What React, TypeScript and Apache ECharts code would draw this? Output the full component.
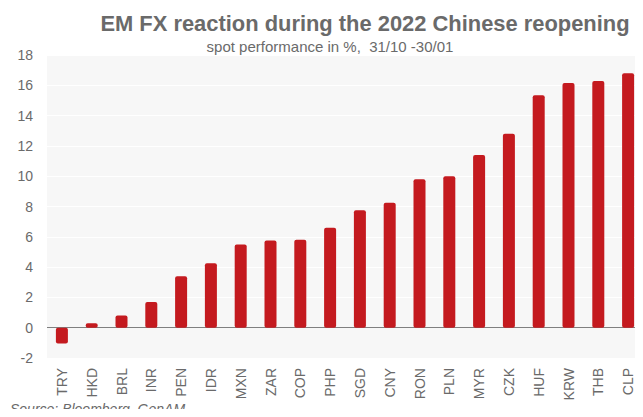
import React, { useEffect, useRef } from "react";
import * as echarts from "echarts";

const currencies = [
  "TRY", "HKD", "BRL", "INR", "PEN", "IDR", "MXN", "ZAR", "COP", "PHP",
  "SGD", "CNY", "RON", "PLN", "MYR", "CZK", "HUF", "KRW", "THB", "CLP",
];
const spotPerformance = [
  -1.05, 0.3, 0.8, 1.7, 3.4, 4.25, 5.5, 5.75, 5.8, 6.6,
  7.75, 8.25, 9.8, 10.0, 11.4, 12.8, 15.35, 16.15, 16.28, 16.8,
];
const yMin = -2;
const yMax = 18;
const yStep = 2;

const FONT = "'Liberation Sans', Arial, sans-serif";
const BAR_RED = "#c41a1f";
const TEXT_GREY = "#6a6a6a";

export default function App() {
  const ref = useRef<HTMLDivElement>(null);

  useEffect(() => {
    if (!ref.current) return;
    const chart = echarts.init(ref.current, null, { renderer: "svg" });
    chart.setOption({
      animation: false,
      textStyle: { fontFamily: FONT },
      title: [
        {
          text: "EM FX reaction during the 2022 Chinese reopening",
          left: 365,
          top: 12,
          padding: 0,
          textAlign: "center",
          textStyle: { fontFamily: FONT, fontSize: 21.9, fontWeight: "bold", color: TEXT_GREY },
        },
        {
          text: "spot performance in %,  31/10 -30/01",
          left: 330,
          top: 39,
          padding: 0,
          textAlign: "center",
          textStyle: { fontFamily: FONT, fontSize: 15, fontWeight: "normal", color: TEXT_GREY },
        },
        {
          text: "Source: Bloomberg, GenAM",
          left: 10,
          top: 401,
          padding: 0,
          textStyle: {
            fontFamily: FONT,
            fontSize: 14,
            lineHeight: 15,
            fontStyle: "italic",
            fontWeight: "normal",
            color: TEXT_GREY,
          },
        },
      ],
      grid: {
        left: 47,
        right: -1,
        top: 55,
        bottom: 59,
        show: true,
        backgroundColor: "#f7f7f7",
        borderWidth: 0,
      },
      xAxis: {
        type: "category",
        data: currencies,
        axisLine: { show: false, onZero: false },
        axisTick: { show: false },
        axisLabel: {
          rotate: 90,
          margin: 10,
          fontSize: 14,
          color: TEXT_GREY,
          fontFamily: FONT,
          interval: 0,
        },
      },
      yAxis: {
        type: "value",
        min: yMin,
        max: yMax,
        interval: yStep,
        axisLine: { show: false },
        axisTick: { show: false },
        splitLine: { lineStyle: { color: "#ffffff", width: 1 } },
        axisLabel: { fontSize: 14, color: TEXT_GREY, margin: 14, fontFamily: FONT },
      },
      series: [
        {
          type: "bar",
          data: spotPerformance,
          barWidth: 12,
          itemStyle: { color: BAR_RED, borderRadius: 2 },
          markLine: {
            silent: true,
            symbol: "none",
            label: { show: false },
            lineStyle: { color: "#7f7f7f", type: "solid", width: 1 },
            data: [{ yAxis: 0 }],
            z: 1,
          },
        },
      ],
    });
    return () => chart.dispose();
  }, []);

  return <div ref={ref} style={{ width: 643, height: 417, margin: -8 }} />;
}
